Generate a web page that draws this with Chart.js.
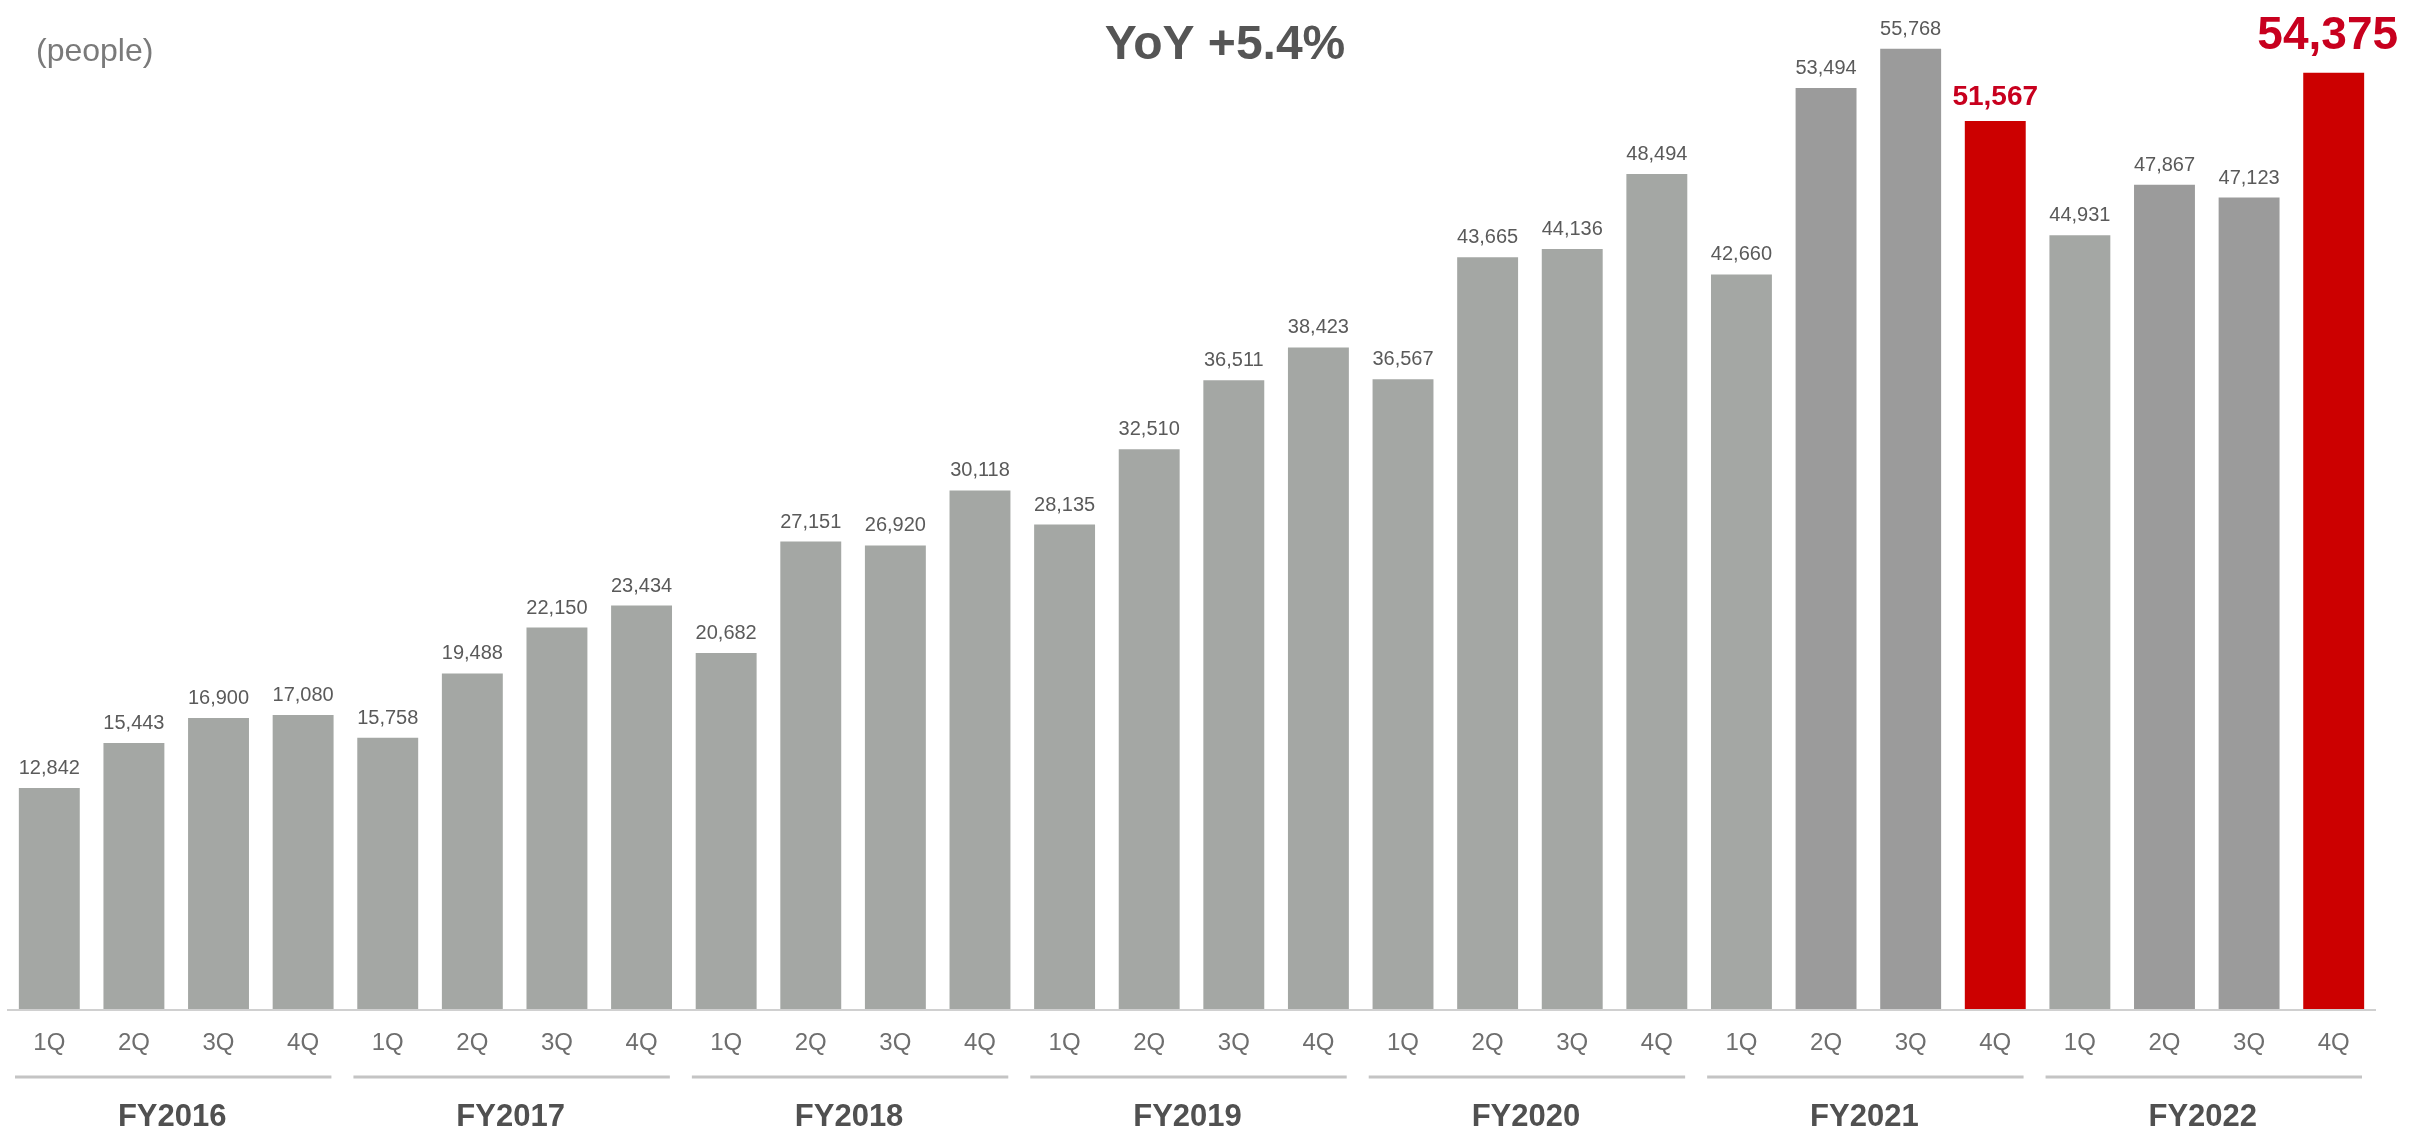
<!DOCTYPE html>
<html>
<head>
<meta charset="utf-8">
<title>Employees by quarter</title>
<script src="https://cdn.jsdelivr.net/npm/chart.js@4.4.1/dist/chart.umd.min.js"></script>
<style>
  html, body { margin: 0; padding: 0; background: #ffffff; }
  #wrap { position: relative; width: 2410px; height: 1133px; }
</style>
</head>
<body>
<div id="wrap"><canvas id="peopleChart" width="2410" height="1133"></canvas></div>
<script>
// Quarterly headcount, FY2016 - FY2022
const quarters = ["1Q", "2Q", "3Q", "4Q"];
const fiscalYears = ["FY2016", "FY2017", "FY2018", "FY2019", "FY2020", "FY2021", "FY2022"];
const people = [
  12842, 15443, 16900, 17080,
  15758, 19488, 22150, 23434,
  20682, 27151, 26920, 30118,
  28135, 32510, 36511, 38423,
  36567, 43665, 44136, 48494,
  42660, 53494, 55768, 51567,
  44931, 47867, 47123, 54375,
];
const yoyText = "YoY +5.4%";
const unitText = "(people)";

// bar indexes that get a different fill
const redBars = [23, 27];
const darkBars = [21, 22, 25, 26];
const bigLabelBar = 27;

const labels = [];
fiscalYears.forEach(() => quarters.forEach((q) => labels.push(q)));

const barColors = people.map((v, i) => {
  if (redBars.includes(i)) return "#cc0000";
  if (darkBars.includes(i)) return "#9b9b9b";
  return "#a4a7a4";
});

const FONT = "'Liberation Sans', Arial, sans-serif";

// value labels above the bars
const valueLabels = {
  id: "valueLabels",
  afterDatasetsDraw(chart) {
    const { ctx } = chart;
    const meta = chart.getDatasetMeta(0);
    ctx.save();
    ctx.textAlign = "center";
    ctx.textBaseline = "alphabetic";
    meta.data.forEach((bar, i) => {
      const txt = people[i].toLocaleString("en-US");
      let gap = 14;
      let x = bar.x;
      if (i === bigLabelBar) {
        ctx.font = "bold 46px " + FONT;
        ctx.fillStyle = "#c8001e";
        gap = 24;
        x = bar.x - 6;
      } else if (redBars.includes(i)) {
        ctx.font = "bold 28px " + FONT;
        ctx.fillStyle = "#c8001e";
        gap = 16;
      } else {
        ctx.font = "20px " + FONT;
        ctx.fillStyle = "#5a5a5a";
      }
      ctx.fillText(txt, x, bar.y - gap);
    });
    ctx.restore();
  },
};

// baseline, quarter ticks, year brackets and headings
const axisDecor = {
  id: "axisDecor",
  afterDraw(chart) {
    const { ctx, chartArea } = chart;
    const x = chart.scales.x;
    const step = x.getPixelForValue(1) - x.getPixelForValue(0);
    ctx.save();

    ctx.strokeStyle = "#d0d0d0";
    ctx.lineWidth = 2;
    ctx.beginPath();
    ctx.moveTo(chartArea.left, chartArea.bottom + 1);
    ctx.lineTo(chartArea.right, chartArea.bottom + 1);
    ctx.stroke();

    ctx.textAlign = "center";
    ctx.textBaseline = "middle";
    ctx.font = "24px " + FONT;
    ctx.fillStyle = "#6e6e6e";
    labels.forEach((q, i) => {
      ctx.fillText(q, x.getPixelForValue(i), 1043);
    });

    fiscalYears.forEach((fy, g) => {
      const left = x.getPixelForValue(g * 4) - step / 2;
      const right = x.getPixelForValue(g * 4 + 3) + step / 2;
      ctx.strokeStyle = "#c4c4c4";
      ctx.lineWidth = 3;
      ctx.beginPath();
      ctx.moveTo(left + 8, 1077);
      ctx.lineTo(right - 14, 1077);
      ctx.stroke();

      ctx.font = "bold 31px " + FONT;
      ctx.fillStyle = "#505050";
      ctx.fillText(fy, (left + right) / 2 - 4, 1117);
    });

    ctx.textAlign = "left";
    ctx.font = "32px " + FONT;
    ctx.fillStyle = "#7a7a7a";
    ctx.fillText(unitText, 36, 52);

    ctx.textAlign = "center";
    ctx.font = "bold 48px " + FONT;
    ctx.fillStyle = "#555555";
    ctx.fillText(yoyText, 1225, 46);
    ctx.restore();
  },
};

const ctx = document.getElementById("peopleChart").getContext("2d");
new Chart(ctx, {
  type: "bar",
  data: {
    labels: labels,
    datasets: [
      {
        label: "people",
        data: people,
        backgroundColor: barColors,
        borderWidth: 0,
        categoryPercentage: 0.72,
        barPercentage: 1.0,
      },
    ],
  },
  options: {
    responsive: false,
    animation: false,
    layout: {
      padding: { top: 0, bottom: 124, left: 7, right: 34 },
    },
    plugins: {
      legend: { display: false },
      tooltip: { enabled: false },
    },
    scales: {
      x: { display: false },
      y: { display: false, min: 0, max: 58600 },
    },
  },
  plugins: [valueLabels, axisDecor],
});
</script>
</body>
</html>
